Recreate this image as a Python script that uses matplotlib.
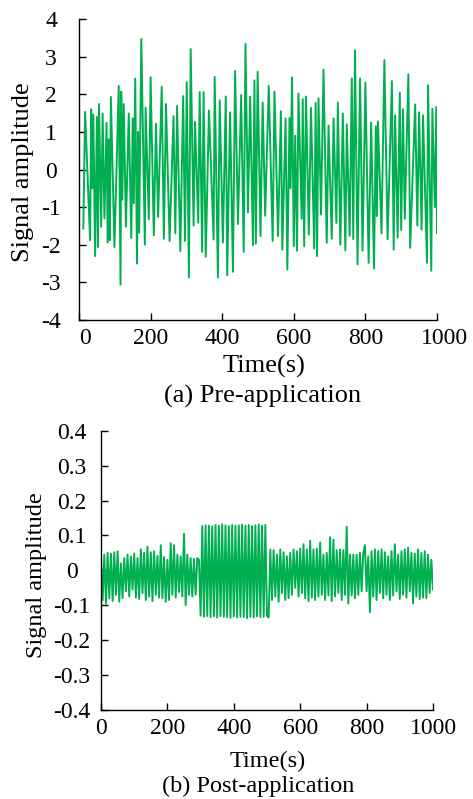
import matplotlib.pyplot as plt
import matplotlib.transforms as mtransforms

# (a) pre-application, vertices
pre_time = [12, 17, 31, 34, 37, 40, 45, 50, 53, 56, 62, 66, 71, 77, 80, 83, 86,
            89, 99, 111, 116, 118, 121, 125, 131, 139, 146, 150, 153, 157, 162,
            165, 168, 174, 184, 186, 195, 200, 209, 215, 221, 231, 237, 243, 253,
            264, 269, 274, 283, 291, 296, 301, 307, 312, 320, 324, 333, 337, 344,
            348, 354, 363, 376, 379, 388, 393, 402, 410, 414, 422, 430, 436, 444,
            453, 460, 465, 472, 478, 486, 490, 494, 499, 507, 513, 520, 530, 541,
            546, 556, 564, 568, 577, 582, 588, 591, 595, 600, 604, 609, 613, 622,
            625, 629, 634, 642, 648, 657, 661, 665, 669, 676, 683, 692, 697, 706,
            711, 719, 723, 730, 737, 744, 748, 756, 762, 766, 771, 778, 785, 792,
            800, 809, 816, 824, 829, 832, 835, 845, 853, 862, 874, 879, 883, 890,
            896, 900, 905, 910, 920, 925, 939, 945, 950, 957, 961, 972, 975, 984,
            987, 994, 998, 1000]
pre_amp = [-1.57, 1.53, -1.88, 1.60, -0.50, 1.46, -2.30, 1.40, -2.06, 1.74,
           -1.52, 1.49, -1.30, 1.24, -1.94, 0.80, -1.88, 1.93, -2.06, 2.22,
           -3.06, 2.07, -0.80, 1.74, -1.52, 1.49, -1.82, 1.36, -0.90, 2.42,
           -2.50, 1.00, -1.68, 3.47, -2.00, 1.64, -1.32, 2.45, -1.75, 1.22,
           -1.26, 2.20, -1.84, 1.74, -1.90, 1.42, -1.70, 1.69, -2.17, 1.95,
           -1.90, 2.32, -2.87, 3.20, -1.49, 1.27, -1.41, 2.06, -2.19, 2.06,
           -2.32, 1.57, -1.86, 2.46, -2.87, 1.84, -1.94, 1.94, -2.81, 1.52,
           -2.72, 2.62, -1.45, 1.98, -2.19, 3.34, -1.14, 1.94, -2.01, 2.37,
           -1.97, 2.60, -1.77, 1.78, -1.23, 2.22, -1.90, 2.07, -1.77, 1.55,
           -2.13, 1.36, -2.66, 1.37, -0.50, 2.45, -2.04, 0.90, -2.16, 2.02,
           -1.31, 1.87, -2.04, 1.94, -1.73, 1.64, -2.10, 1.77, -2.30, 1.89,
           -1.20, 2.65, -1.95, 1.17, -1.84, 1.36, -1.42, 1.78, -2.00, 1.49,
           -2.15, 1.20, -1.76, 2.42, -1.85, 3.17, -2.52, 2.42, -2.16, 2.31,
           -2.48, 1.25, -2.63, 1.15, -1.24, 1.28, -1.70, 2.91, -1.85, 2.35,
           -2.13, 1.44, -1.81, 2.04, -1.61, 1.60, -1.31, 2.53, -2.08, 1.73,
           -1.49, 1.52, -1.60, 1.44, -2.48, 2.24, -2.69, 1.61, -1.00, 1.66,
           -1.69]

# (b) post-application, sampled every 5 s
post_time = list(range(0, 1001, 5))
post_amp = [
    # 0 - 295
    0.035, -0.085, 0.045, -0.095, 0.050, -0.080, 0.048, -0.088, 0.052, -0.070,
    0.055, -0.090, 0.020, -0.080, 0.035, -0.060, 0.045, -0.075, 0.040, -0.055,
    0.048, -0.078, 0.035, -0.082, 0.060, -0.065, 0.050, -0.085, 0.068, -0.075,
    0.052, -0.088, 0.055, -0.070, 0.042, -0.078, 0.072, -0.080, 0.038, -0.090,
    0.030, -0.085, 0.078, -0.070, 0.072, -0.078, 0.045, -0.062, 0.040, -0.075,
    0.105, -0.100, 0.045, -0.070, 0.035, -0.075, 0.033, -0.070, 0.035, 0.030,
    # 300 - 505
    -0.130, 0.127, -0.133, 0.129, -0.131, 0.128, -0.134, 0.126, -0.132, 0.130,
    -0.135, 0.128, -0.131, 0.132, -0.133, 0.129, -0.134, 0.127, -0.136, 0.130,
    -0.132, 0.128, -0.135, 0.129, -0.133, 0.131, -0.134, 0.128, -0.137, 0.130,
    -0.133, 0.127, -0.135, 0.129, -0.132, 0.131, -0.134, 0.128, -0.133, 0.130,
    -0.131, -0.135,
    # 510 - 1000
    0.060, -0.085, 0.058, -0.075, 0.045, -0.090, 0.060, -0.065, 0.052, -0.085,
    0.040, -0.080, 0.050, -0.070, 0.060, -0.050, 0.055, -0.075, 0.062, -0.065,
    0.075, -0.080, 0.060, -0.088, 0.085, -0.078, 0.060, -0.085, 0.062, -0.075,
    0.080, -0.070, 0.045, -0.085, 0.050, -0.072, 0.095, -0.088, 0.088, -0.075,
    0.058, -0.065, 0.060, -0.085, 0.058, -0.070, 0.125, -0.095, 0.045, -0.072,
    0.045, -0.080, 0.045, -0.070, 0.050, -0.060, 0.050, 0.072, -0.060, 0.040,
    -0.120, 0.055, -0.075, 0.060, -0.085, 0.055, -0.065, 0.060, -0.080, 0.052,
    -0.070, 0.040, -0.085, 0.055, -0.072, 0.075, -0.060, 0.045, -0.082, 0.055,
    -0.070, 0.060, -0.078, 0.065, -0.060, 0.050, -0.095, 0.048, -0.075, 0.060,
    -0.082, 0.050, -0.078, 0.055, -0.080, 0.045, -0.065, 0.030, -0.055,
]

x_ticks = [0, 200, 400, 600, 800, 1000]
pre_yticks = [-4, -3, -2, -1, 0, 1, 2, 3, 4]
post_yticks = [-0.4, -0.3, -0.2, -0.1, 0, 0.1, 0.2, 0.3, 0.4]
post_ylabels = ["-0.4", "-0.3", "-0.2", "-0.1", "0", "0.1", "0.2", "0.3", "0.4"]

green = "#00B050"
plt.rcParams["font.family"] = ["Liberation Serif", "DejaVu Serif"]
W, H = 473, 799
fig = plt.figure(figsize=(W / 100, H / 100), dpi=100)


def style(ax, tick_size, ypad):
    for s in ["top", "right"]:
        ax.spines[s].set_visible(False)
    for s in ["left", "bottom"]:
        ax.spines[s].set_linewidth(1.0)
    ax.tick_params(direction="in", length=5, width=1.0, labelsize=tick_size)
    ax.tick_params(axis="x", pad=6)
    ax.tick_params(axis="y", pad=ypad)
    plt.setp(ax.get_yticklabels(), ha="center")


ax1 = fig.add_axes([79 / W, 1 - 320 / H, 358 / W, 301 / H])
ax1.plot(pre_time, pre_amp, color=green, lw=1.4)
ax1.set_xlim(0, 1000)
ax1.set_ylim(-4, 4)
ax1.set_xticks(x_ticks)
ax1.set_xticklabels([str(t) for t in x_ticks])
ax1.set_yticks(pre_yticks)
ax1.set_yticklabels([str(v) for v in pre_yticks])
style(ax1, 17, 20)
xl = ax1.get_xticklabels()
xl[0].set_ha("left")
xl[-1].set_transform(xl[-1].get_transform() +
                     mtransforms.ScaledTranslation(0.07, 0, fig.dpi_scale_trans))

ax2 = fig.add_axes([101 / W, 1 - 710 / H, 332 / W, 279.3 / H])
ax2.plot(post_time, post_amp, color=green, lw=1.4)
ax2.set_xlim(0, 1000)
ax2.set_ylim(-0.4, 0.4)
ax2.set_xticks(x_ticks)
ax2.set_xticklabels([str(t) for t in x_ticks])
ax2.set_yticks(post_yticks)
ax2.set_yticklabels(post_ylabels)
style(ax2, 17, 21)

fig.text(23 / W, 1 - 172 / H, "Signal amplitude", rotation=90, fontsize=19,
         ha="center", va="center")
fig.text(264 / W, 1 - 366 / H, "Time(s)", fontsize=19, ha="center", va="center")
fig.text(263 / W, 1 - 396 / H, "(a) Pre-application", fontsize=19,
         ha="center", va="center")

fig.text(37 / W, 1 - 575 / H, "Signal amplitude", rotation=90, fontsize=17.5,
         ha="center", va="center")
fig.text(268 / W, 1 - 761 / H, "Time(s)", fontsize=17.5, ha="center", va="center")
fig.text(258 / W, 1 - 786 / H, "(b) Post-application", fontsize=17.5,
         ha="center", va="center")

fig.savefig("out.png", dpi=100)
